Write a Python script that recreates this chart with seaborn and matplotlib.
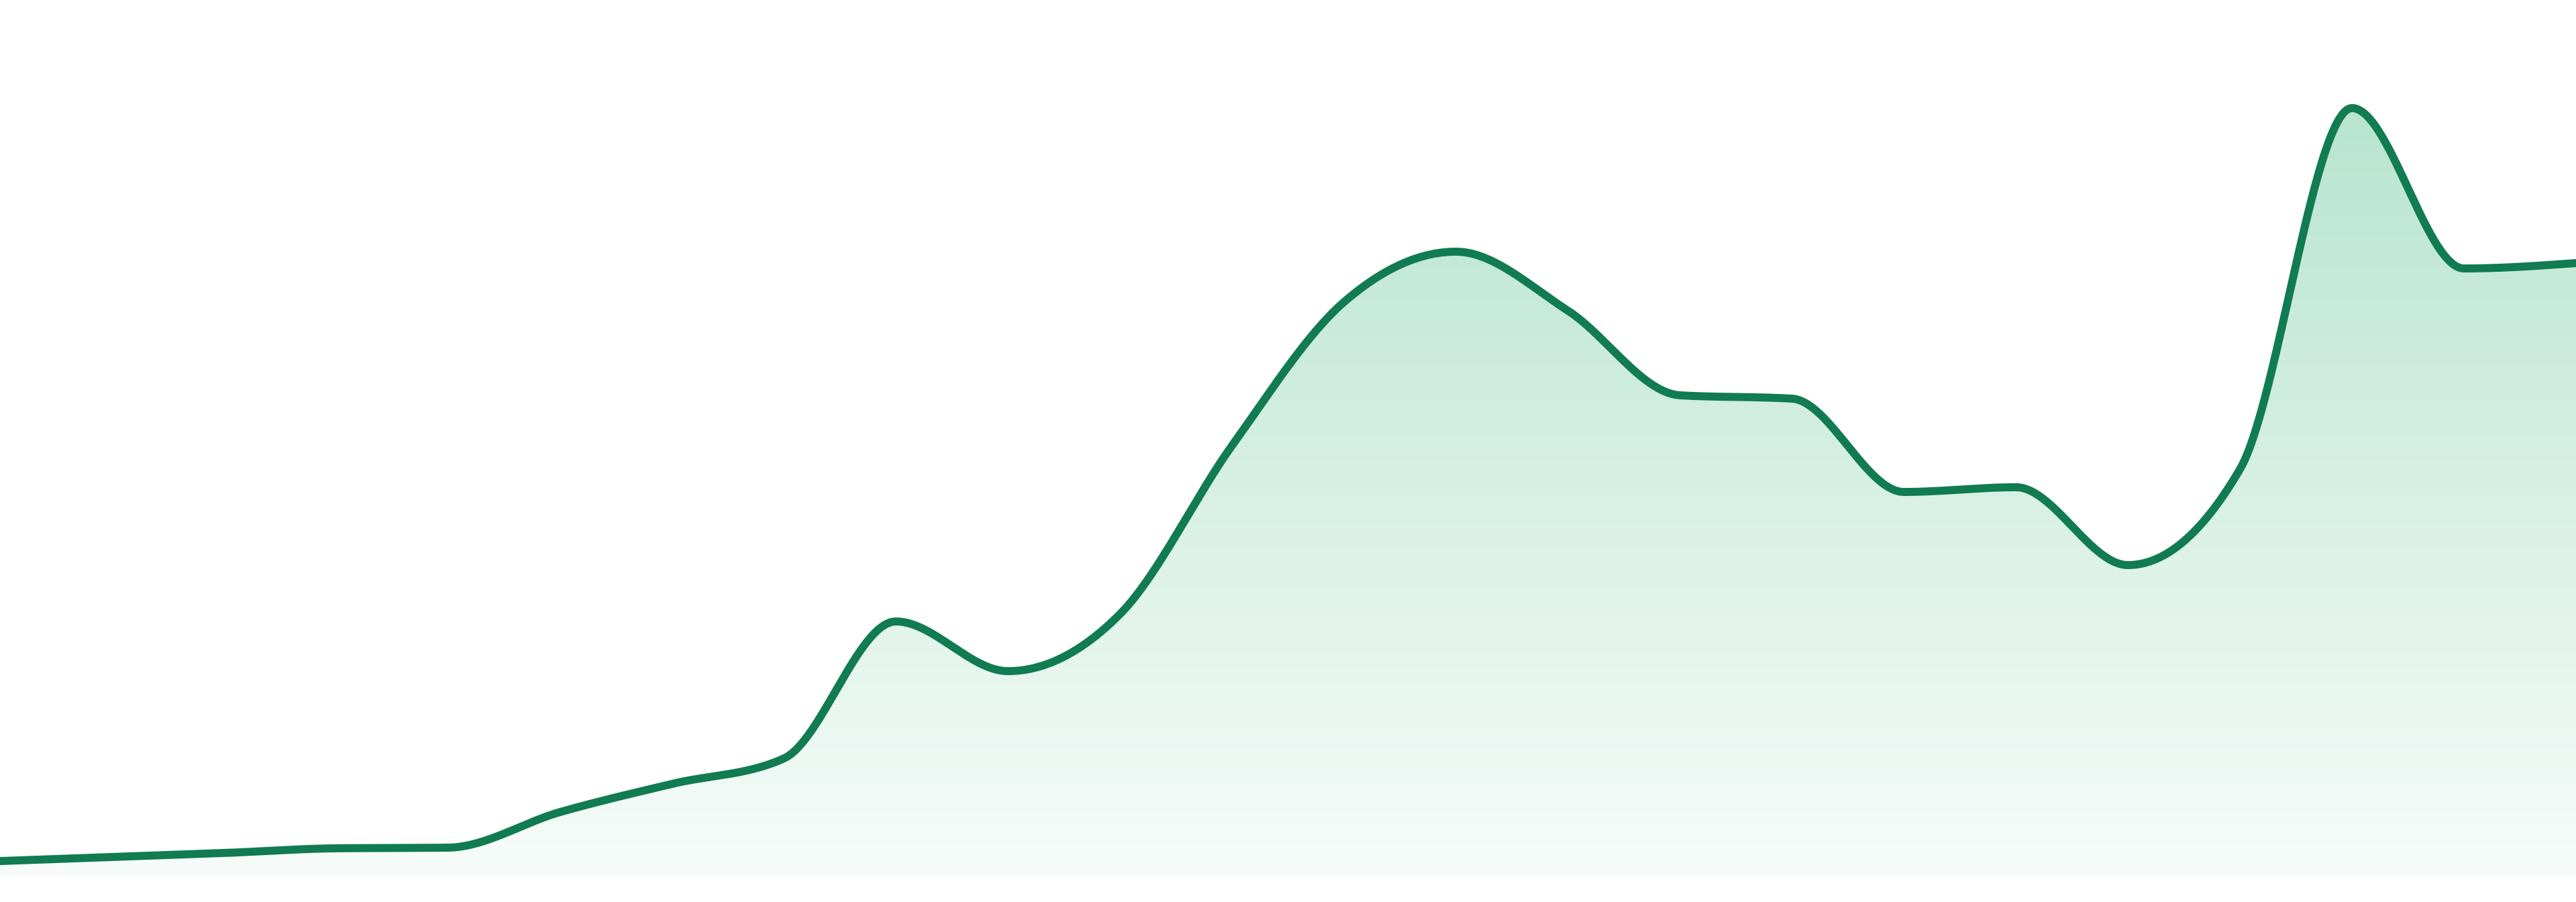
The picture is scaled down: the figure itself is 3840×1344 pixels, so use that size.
import numpy as np
import pandas as pd
import matplotlib
matplotlib.use("Agg")
import matplotlib.pyplot as plt
import seaborn as sns

# ---- data ----
points = list(range(24))
values = [2.2, 2.8, 3.4, 4.1, 4.2, 9.5, 13.7, 17.5, 37.9, 30.5, 39.0, 64.1,
          85.5, 93.0, 84.2, 71.6, 71.1, 57.2, 57.9, 46.3, 60.6, 114.4, 90.5, 91.3]

LINE_COLOR = "#117b51"
FILL_TOP = (184 / 255, 228 / 255, 208 / 255)
FILL_BOTTOM = (247 / 255, 252 / 255, 250 / 255)


def monotone_x(x, y, n=60):
    """d3.curveMonotoneX style sampling."""
    x = np.asarray(x, float)
    y = np.asarray(y, float)
    m = len(x)
    t = np.zeros(m)
    for i in range(1, m - 1):
        h0 = x[i] - x[i - 1]
        h1 = x[i + 1] - x[i]
        s0 = (y[i] - y[i - 1]) / h0
        s1 = (y[i + 1] - y[i]) / h1
        p = (s0 * h1 + s1 * h0) / (h0 + h1)
        t[i] = (np.sign(s0) + np.sign(s1)) * min(abs(s0), abs(s1), 0.5 * abs(p))
    t[0] = (3 * (y[1] - y[0]) / (x[1] - x[0]) - t[1]) / 2
    t[-1] = (3 * (y[-1] - y[-2]) / (x[-1] - x[-2]) - t[-2]) / 2
    xs, ys = [], []
    for i in range(m - 1):
        dx = (x[i + 1] - x[i]) / 3
        p0, p3 = y[i], y[i + 1]
        p1 = y[i] + dx * t[i]
        p2 = y[i + 1] - dx * t[i + 1]
        s = np.linspace(0, 1, n, endpoint=(i == m - 2))
        xs.append(x[i] + s * (x[i + 1] - x[i]))
        ys.append((1 - s) ** 3 * p0 + 3 * (1 - s) ** 2 * s * p1
                  + 3 * (1 - s) * s ** 2 * p2 + s ** 3 * p3)
    return np.concatenate(xs), np.concatenate(ys)


sns.set_theme(style="white")
plt.rcParams["font.family"] = ["DejaVu Sans"]

fig = plt.figure(figsize=(19.2, 6.72), dpi=200)
fig.patch.set_facecolor("white")
bottom = (1344 - 1305) / 1344
ax = fig.add_axes([0, bottom, 1, 1 - bottom])
ax.set_facecolor("none")

xs, ys = monotone_x(points, values)
df = pd.DataFrame({"x": xs, "y": ys})

ymax_view = 130.5

# gradient fill clipped to the area under the curve
poly = ax.fill_between(df["x"], df["y"], 0, color="none", linewidth=0)
top_v = max(values)
grad = np.linspace(0, 1, 512)[:, None]
top = np.array(FILL_TOP)
bot = np.array(FILL_BOTTOM)
img = (top[None, None, :] * (1 - grad[:, :, None]) + bot[None, None, :] * grad[:, :, None])
im = ax.imshow(img, extent=[points[0], points[-1], 0, top_v], origin="upper",
               aspect="auto", interpolation="bilinear", zorder=1)
im.set_clip_path(poly.get_paths()[0], transform=ax.transData)

sns.lineplot(data=df, x="x", y="y", ax=ax, color=LINE_COLOR, linewidth=4.3,
             estimator=None, sort=False, zorder=3)
ax.lines[-1].set_solid_capstyle("round")
ax.lines[-1].set_solid_joinstyle("round")

ax.set_xlim(points[0], points[-1])
ax.set_ylim(0, ymax_view)
ax.set_axis_off()
fig.savefig("out.png", dpi=200, facecolor="white")
